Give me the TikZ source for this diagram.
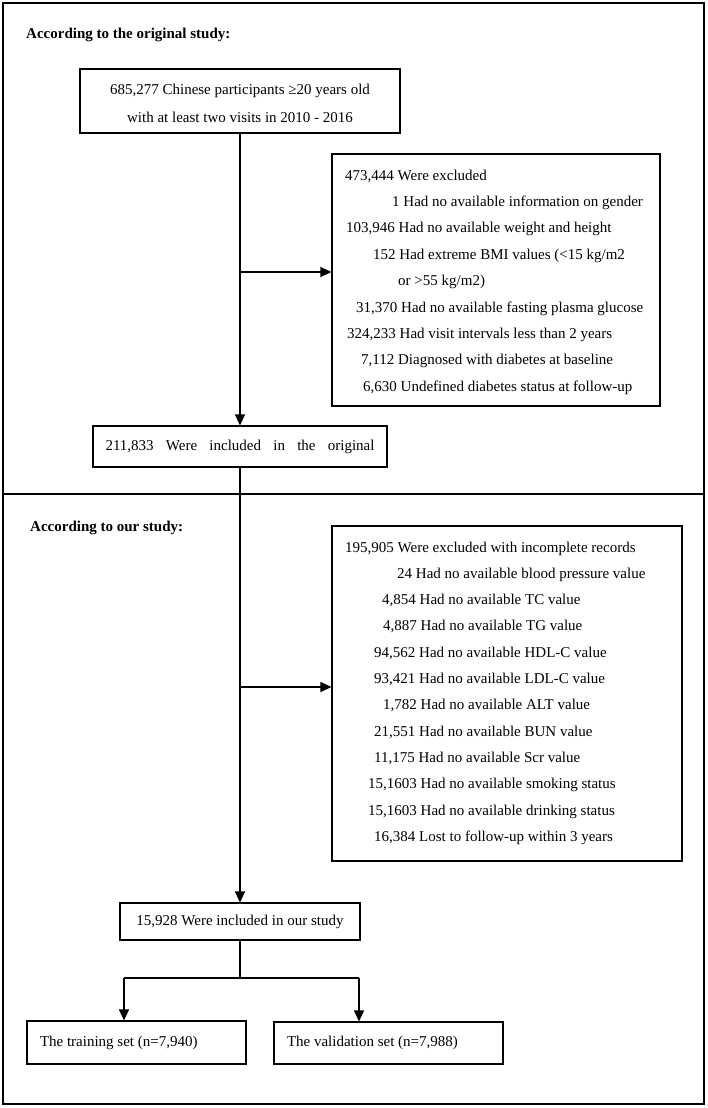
\documentclass[tikz,border=0pt]{standalone}
\usepackage{fontspec}
\setmainfont{Liberation Serif}
\usetikzlibrary{arrows.meta}
\begin{document}
\begin{tikzpicture}[x=1pt,y=-1pt,
  every node/.style={font=\fontsize{15}{18}\selectfont, inner sep=0pt},
  box/.style={draw, line width=1.1pt},
  conn/.style={line width=1.1pt},
  arr/.style={conn, -{Triangle[length=11pt,width=10pt]}},
  ln/.style={anchor=base west},
  ttl/.style={anchor=base west, font=\fontsize{15}{18}\selectfont\bfseries}]
\useasboundingbox (0,0) rectangle (708,1108);
% outer frame and divider
\draw[line width=1.4pt] (3,3) rectangle (704,1104);
\coordinate (dl) at (3,494);
\coordinate (dr) at (704,494);
\draw[line width=1.4pt] (dl) -- (dr);
% titles
\node[ttl] (t1) at (26,39) {According to the original study:};
\node[ttl] (t2) at (30,531) {According to our study:};
% top box
\node[box, minimum width=320pt, minimum height=64pt] (b1) at (240,101) {};
\node[anchor=base] (b1a) at (240,95) {685,277 Chinese participants ≥20 years old};
\node[anchor=base] (b1b) at (240,122) {with at least two visits in 2010 - 2016};
% exclusion box 1
\node[box, minimum width=328pt, minimum height=252pt] (ex1) at (496,280) {};
\node[ln] (e1a) at (345,180) {473,444 Were excluded};
\node[ln] (e1b) at (392,206.4) {1 Had no available information on gender};
\node[ln] (e1c) at (346,232.8) {103,946 Had no available weight and height};
\node[ln] (e1d) at (373,259.2) {152 Had extreme BMI values (<15 kg/m2};
\node[ln] (e1e) at (398,285.6) {or >55 kg/m2)};
\node[ln] (e1f) at (356,312) {31,370 Had no available fasting plasma glucose};
\node[ln] (e1g) at (347,338.4) {324,233 Had visit intervals less than 2 years};
\node[ln] (e1h) at (361,364.8) {7,112 Diagnosed with diabetes at baseline};
\node[ln] (e1i) at (363,391.2) {6,630 Undefined diabetes status at follow-up};
% included original
\node[box, minimum width=294pt, minimum height=41pt] (inc1) at (240,446.5)
  {\makebox[269pt][s]{211,833 Were included in the original}};
% exclusion box 2
\node[box, minimum width=350pt, minimum height=335pt] (ex2) at (507,693.5) {};
\node[ln] (e2a) at (345,552) {195,905 Were excluded with incomplete records};
\node[ln] (e2b) at (397,578.3) {24 Had no available blood pressure value};
\node[ln] (e2c) at (382,604.6) {4,854 Had no available TC value};
\node[ln] (e2d) at (383,630.9) {4,887 Had no available TG value};
\node[ln] (e2e) at (374,657.2) {94,562 Had no available HDL-C value};
\node[ln] (e2f) at (374,683.5) {93,421 Had no available LDL-C value};
\node[ln] (e2g) at (383,709.8) {1,782 Had no available ALT value};
\node[ln] (e2h) at (374,736.1) {21,551 Had no available BUN value};
\node[ln] (e2i) at (374,762.4) {11,175 Had no available Scr value};
\node[ln] (e2j) at (368,788.7) {15,1603 Had no available smoking status};
\node[ln] (e2k) at (368,815) {15,1603 Had no available drinking status};
\node[ln] (e2l) at (374,841.3) {16,384 Lost to follow-up within 3 years};
% included our study
\node[box, minimum width=240pt, minimum height=37pt] (inc2) at (240,921.5)
  {15,928 Were included in our study};
% training / validation
\node[box, inner xsep=13pt, minimum height=43pt] (train) at (136.5,1042.5)
  {\makebox[193pt][l]{The training set (n=7,940)}};
\node[box, inner xsep=13pt, minimum height=42pt] (valid) at (388.5,1043)
  {\makebox[203pt][l]{The validation set (n=7,988)}};
% connectors
\draw[arr] (b1.south) -- (inc1.north);
\coordinate (j1) at (240,272);
\draw[arr] (j1) -- (j1 -| ex1.west);
\draw[arr] (inc1.south) -- (inc2.north);
\coordinate (j2) at (240,687);
\draw[arr] (j2) -- (j2 -| ex2.west);
\coordinate (sp) at (240,978);
\coordinate (sl) at (124,978);
\coordinate (sr) at (359,978);
\draw[conn] (inc2.south) -- (sp);
\draw[conn] (sl) -- (sr);
\draw[arr] (sl) -- (sl |- train.north);
\draw[arr] (sr) -- (sr |- valid.north);
\end{tikzpicture}
\end{document}
